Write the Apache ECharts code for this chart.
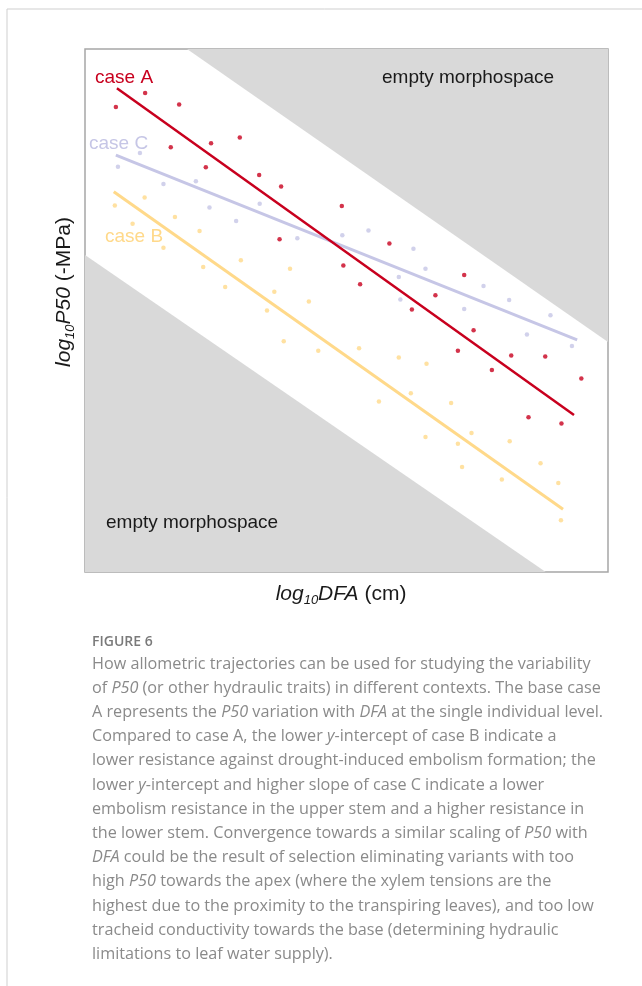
<!DOCTYPE html>
<html>
<head>
<meta charset="utf-8">
<script src="https://cdn.jsdelivr.net/npm/echarts@6/dist/echarts.min.js"></script>
<style>
  html, body { margin: 0; padding: 0; background: #fff; }
  #chart { width: 642px; height: 986px; }
</style>
</head>
<body>
<div id="chart"></div>
<script>
// points, axes are unitless 0..10 (log scales, no ticks)
var caseA = [[0.59,8.89],[1.15,9.16],[1.80,8.94],[1.64,8.12],[2.41,8.20],[2.96,8.31],[2.31,7.74],
  [3.33,7.59],[3.75,7.37],[4.91,7.00],[3.72,6.36],[4.94,5.86],[5.82,6.28],[5.26,5.50],[6.25,5.02],
  [6.70,5.29],[7.25,5.68],[7.43,4.62],[7.13,4.23],[7.78,3.86],[8.15,4.14],[8.80,4.12],[9.49,3.70],
  [8.48,2.96],[9.11,2.84]];
var caseC = [[1.05,8.01],[0.63,7.75],[1.50,7.42],[2.12,7.47],[2.38,6.97],[3.34,7.04],[2.89,6.71],
  [4.06,6.38],[4.92,6.44],[5.42,6.53],[6.28,6.18],[6.51,5.80],[6.00,5.64],[6.03,5.21],[7.25,5.03],
  [7.62,5.47],[8.11,5.20],[8.90,4.91],[8.45,4.54],[9.31,4.32]];
var caseB = [[0.57,7.01],[1.14,7.16],[0.91,6.66],[1.72,6.79],[2.19,6.52],[1.50,6.20],[2.98,5.96],
  [2.26,5.83],[3.92,5.80],[2.68,5.45],[3.62,5.36],[3.48,5.00],[4.28,5.17],[3.80,4.41],[4.46,4.23],
  [5.24,4.28],[6.00,4.10],[6.53,3.98],[6.23,3.42],[5.62,3.26],[7.00,3.23],[6.51,2.58],[7.13,2.45],
  [7.39,2.66],[7.21,2.01],[8.12,2.50],[7.97,1.77],[8.71,2.08],[9.05,1.70],[9.10,0.99]];
// fitted trajectories (end points)
var lineA = [[0.61,9.25],[9.35,3.00]];
var lineC = [[0.59,7.97],[9.41,4.44]];
var lineB = [[0.55,7.27],[9.14,1.20]];
// empty morphospace regions
var emptyUpper = [[1.95,10],[10,10],[10,4.40]];
var emptyLower = [[0,6.06],[0,0],[8.81,0]];

var captionLines = [
  'How allometric trajectories can be used for studying the variability',
  'of {i|P50} (or other hydraulic traits) in different contexts. The base case',
  'A represents the {i|P50} variation with {i|DFA} at the single individual level.',
  'Compared to case A, the lower {i|y}-intercept of case B indicate a',
  'lower resistance against drought-induced embolism formation; the',
  'lower {i|y}-intercept and higher slope of case C indicate a lower',
  'embolism resistance in the upper stem and a higher resistance in',
  'the lower stem. Convergence towards a similar scaling of {i|P50} with',
  '{i|DFA} could be the result of selection eliminating variants with too',
  'high {i|P50} towards the apex (where the xylem tensions are the',
  'highest due to the proximity to the transpiring leaves), and too low',
  'tracheid conductivity towards the base (determining hydraulic',
  'limitations to leaf water supply).'
];

var RED = '#c8001e', LAV = '#c6c6e6', YEL = '#ffd98a';
var capFont = '"Open Sans", Lato, sans-serif';
var labFont = '"Liberation Sans", Arial, sans-serif';

var chart = echarts.init(document.getElementById('chart'));

function polySeries(pts) {
  return {
    type: 'custom',
    silent: true,
    z: 1,
    data: [0],
    renderItem: function (params, api) {
      var p = pts.map(function (d) { return api.coord(d); });
      return { type: 'polygon', shape: { points: p }, style: { fill: '#d9d9d9' } };
    }
  };
}

function trendSeries(d, color, w) {
  return { type: 'line', data: d, symbol: 'none', z: 3, silent: true,
    lineStyle: { color: color, width: w } };
}

function dotSeries(d, color) {
  return { type: 'scatter', data: d, symbolSize: 4.5, z: 4, silent: true,
    itemStyle: { color: color } };
}

var graphics = [
  // page frame
  { type: 'line', shape: { x1: 7, y1: 9, x2: 642, y2: 9 }, style: { stroke: '#cfcfcf', lineWidth: 1 } },
  { type: 'line', shape: { x1: 7, y1: 9, x2: 7, y2: 986 }, style: { stroke: '#cfcfcf', lineWidth: 1 } },
  // region and case labels
  { type: 'text', x: 382, y: 78, style: { text: 'empty morphospace', font: '19px ' + labFont, fill: '#1a1a1a', verticalAlign: 'middle' }, z: 10 },
  { type: 'text', x: 106, y: 523, style: { text: 'empty morphospace', font: '19px ' + labFont, fill: '#1a1a1a', verticalAlign: 'middle' }, z: 10 },
  { type: 'text', x: 95, y: 78, style: { text: 'case A', font: '19px ' + labFont, fill: RED, verticalAlign: 'middle' }, z: 10 },
  { type: 'text', x: 89, y: 144, style: { text: 'case C', font: '19px ' + labFont, fill: LAV, verticalAlign: 'middle' }, z: 10 },
  { type: 'text', x: 105, y: 237, style: { text: 'case B', font: '19px ' + labFont, fill: YEL, verticalAlign: 'middle' }, z: 10 },
  // axis titles
  { type: 'text', x: 341, y: 594, z: 10, style: {
      text: '{it|log}{sub|10}{it|DFA}{n| (cm)}', align: 'center', verticalAlign: 'middle',
      rich: {
        it: { font: 'italic 21px ' + labFont, fill: '#1a1a1a', lineHeight: 26 },
        n: { font: '21px ' + labFont, fill: '#1a1a1a', lineHeight: 26 },
        sub: { font: 'italic 13px ' + labFont, fill: '#1a1a1a', lineHeight: 12, verticalAlign: 'bottom' }
      } } },
  { type: 'text', x: 64, y: 292, rotation: Math.PI / 2, z: 10, style: {
      text: '{it|log}{sub|10}{it|P50}{n| (-MPa)}', align: 'center', verticalAlign: 'middle',
      rich: {
        it: { font: 'italic 21px ' + labFont, fill: '#1a1a1a', lineHeight: 26 },
        n: { font: '21px ' + labFont, fill: '#1a1a1a', lineHeight: 26 },
        sub: { font: 'italic 13px ' + labFont, fill: '#1a1a1a', lineHeight: 12, verticalAlign: 'bottom' }
      } } },
  // caption
  { type: 'text', x: 92, y: 642, style: { text: 'FIGURE 6', font: '600 14px ' + capFont, fill: '#7a7a7a', verticalAlign: 'middle' } }
];

captionLines.forEach(function (t, i) {
  graphics.push({ type: 'text', x: 92, y: 664 + i * 24.2, style: {
    text: t, verticalAlign: 'middle', font: '16.2px ' + capFont, fill: '#8a8a8a',
    rich: { i: { font: 'italic 16.2px ' + capFont, fill: '#8a8a8a' } }
  } });
});

var option = {
  backgroundColor: '#fff',
  animation: false,
  grid: { left: 85, top: 49, width: 523, height: 523, show: true,
    borderColor: '#a6a6a6', borderWidth: 1.5, backgroundColor: 'transparent' },
  xAxis: { type: 'value', min: 0, max: 10, axisLine: { show: false }, axisTick: { show: false },
    axisLabel: { show: false }, splitLine: { show: false } },
  yAxis: { type: 'value', min: 0, max: 10, axisLine: { show: false }, axisTick: { show: false },
    axisLabel: { show: false }, splitLine: { show: false } },
  series: [
    polySeries(emptyUpper),
    polySeries(emptyLower),
    trendSeries(lineB, YEL, 3),
    trendSeries(lineC, LAV, 3),
    trendSeries(lineA, RED, 2.5),
    dotSeries(caseB, YEL),
    dotSeries(caseC, LAV),
    dotSeries(caseA, RED)
  ],
  graphic: graphics
};
chart.setOption(option);
</script>
</body>
</html>
